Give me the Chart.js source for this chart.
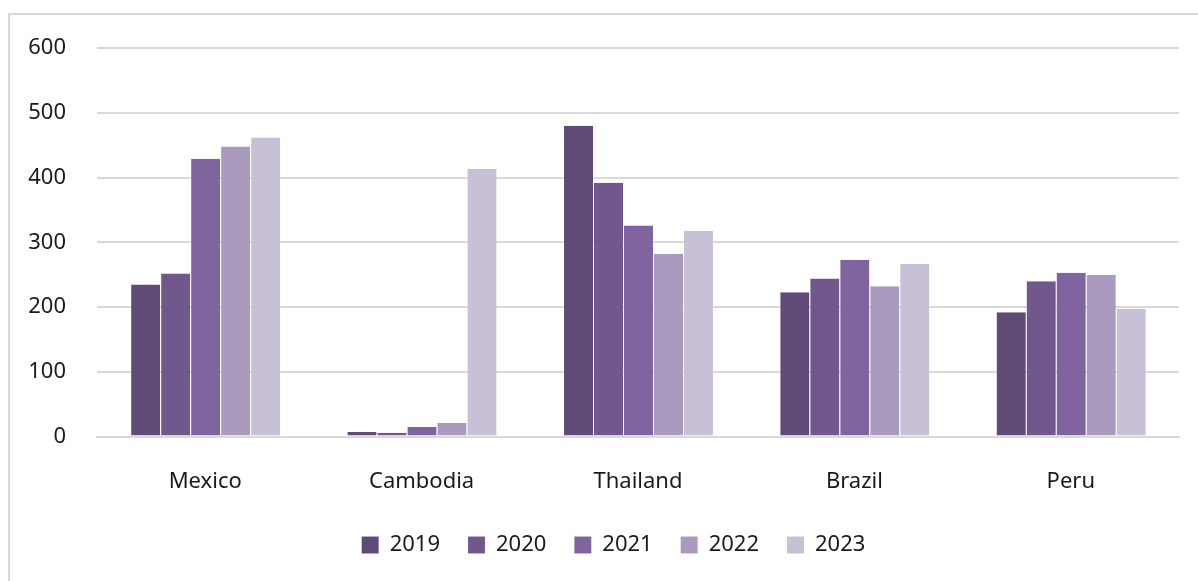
<!DOCTYPE html>
<html>
<head>
<meta charset="utf-8">
<script src="https://cdn.jsdelivr.net/npm/chart.js@4"></script>
<style>
  html, body { margin: 0; padding: 0; background: #ffffff; overflow: hidden; }
  #wrap { position: relative; width: 1198px; height: 581px; }
  #frame { position: absolute; left: 8px; top: 13px; width: 1200px; height: 600px;
           border-left: 2px solid #d9d9d9; border-top: 2px solid #d9d9d9; box-sizing: border-box; }
  canvas { position: absolute; left: 0; top: 0; }
</style>
</head>
<body>
<div id="wrap">
  <div id="frame"></div>
  <canvas id="chart" width="1198" height="581"></canvas>
</div>
<script>
// Categories, series and axis ticks
const countries = ["Mexico", "Cambodia", "Thailand", "Brazil", "Peru"];
const years = ["2019", "2020", "2021", "2022", "2023"];
const values2019 = [235, 7, 480, 223, 192];
const values2020 = [252, 6, 392, 244, 240];
const values2021 = [429, 15, 326, 273, 253];
const values2022 = [448, 21, 282, 232, 250];
const values2023 = [462, 413, 318, 267, 197];
const yTicks = [0, 100, 200, 300, 400, 500, 600];

const seriesValues = [values2019, values2020, values2021, values2022, values2023];
const palette = ["#5f4a78", "#70578c", "#8064a0", "#a99abe", "#c8c0d6"];

const FONT = "'Noto Sans', 'Open Sans', sans-serif";

// Nudges the bottom legend to the right of the canvas centre
const legendOffset = {
  id: "legendOffset",
  afterLayout(chart) {
    if (chart.legend) {
      chart.legend.left += 24;
      chart.legend.right += 24;
    }
  }
};

new Chart(document.getElementById("chart"), {
  type: "bar",
  data: {
    labels: countries,
    datasets: years.map((y, i) => ({
      label: y,
      data: seriesValues[i],
      backgroundColor: palette[i],
      borderColor: "rgba(255,255,255,0.35)",
      borderWidth: { left: 1, right: 0, top: 0, bottom: 0 },
      barPercentage: 1.0,
      categoryPercentage: 0.693
    }))
  },
  plugins: [legendOffset],
  options: {
    responsive: false,
    animation: false,
    layout: { padding: { top: 48, right: 19, left: 0, bottom: 15 } },
    plugins: {
      tooltip: { enabled: false },
      legend: {
        position: "bottom",
        labels: {
          color: "#1a1a1a",
          font: { family: FONT, size: 22 },
          boxWidth: 17,
          boxHeight: 17,
          padding: 28
        }
      }
    },
    scales: {
      x: {
        afterFit: (scale) => { scale.height = scale.height - 21; },
        grid: { display: false, drawTicks: false },
        border: { display: true, color: "#d9d9d9", width: 2 },
        ticks: { color: "#1a1a1a", font: { family: FONT, size: 22 }, padding: 32 }
      },
      y: {
        min: 0,
        max: 600,
        afterFit: (scale) => { scale.width = 97; },
        afterBuildTicks: (scale) => { scale.ticks = yTicks.map(v => ({ value: v })); },
        grid: { color: "#d9d9d9", lineWidth: 2, drawTicks: false },
        border: { display: false },
        ticks: { color: "#1a1a1a", font: { family: FONT, size: 22 }, padding: 31 }
      }
    }
  }
});
</script>
</body>
</html>
